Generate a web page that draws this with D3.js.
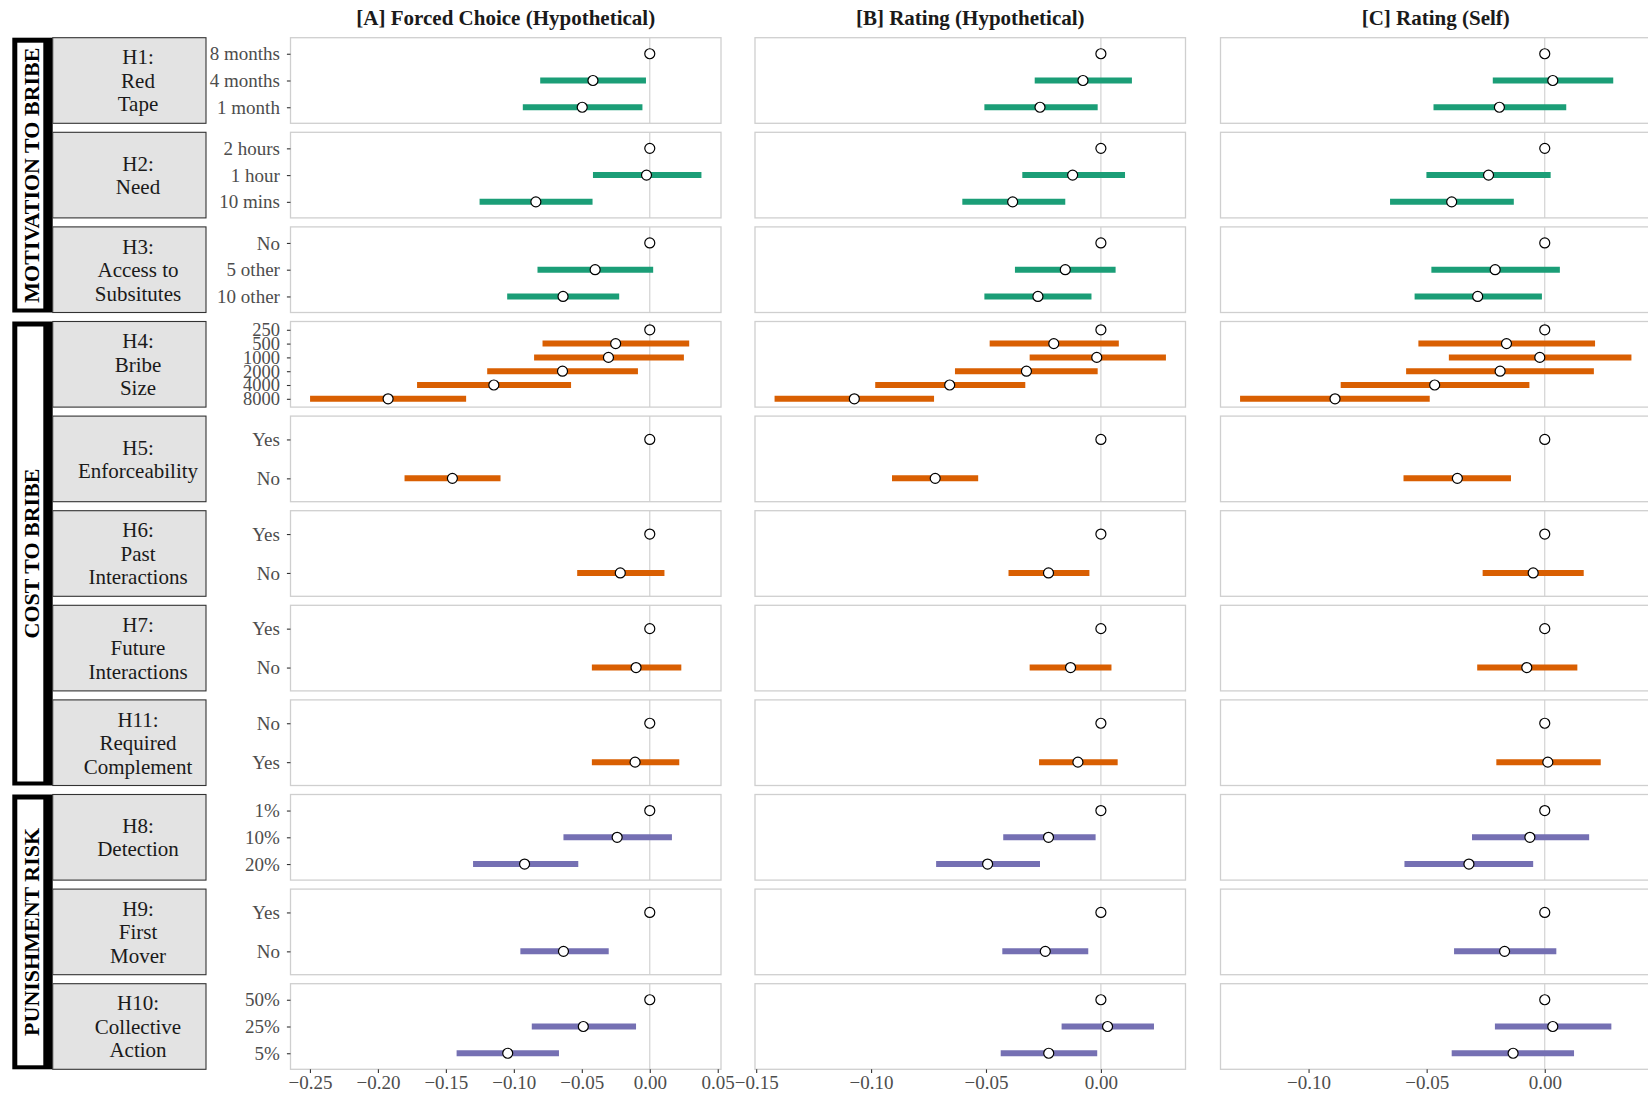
<!DOCTYPE html>
<html>
<head>
<meta charset="utf-8">
<script src="https://cdn.jsdelivr.net/npm/d3@7"></script>
<style>
	body { margin: 0; background: white; }
	text { font-family: "Liberation Serif", "Times New Roman", serif; }
</style>
</head>
<body>
<script>
// column titles
var columns = ["[A] Forced Choice (Hypothetical)", "[B] Rating (Hypothetical)", "[C] Rating (Self)"];

// hypotheses, in plotting order (top to bottom)
var hypLabels = [
	["H1:", "Red", "Tape"],
	["H2:", "Need"],
	["H3:", "Access to", "Subsitutes"],
	["H4:", "Bribe", "Size"],
	["H5:", "Enforceability"],
	["H6:", "Past", "Interactions"],
	["H7:", "Future", "Interactions"],
	["H11:", "Required", "Complement"],
	["H8:", "Detection"],
	["H9:", "First", "Mover"],
	["H10:", "Collective", "Action"]
];
var levels = [
	["8 months", "4 months", "1 month"],
	["2 hours", "1 hour", "10 mins"],
	["No", "5 other", "10 other"],
	["250", "500", "1000", "2000", "4000", "8000"],
	["Yes", "No"],
	["Yes", "No"],
	["Yes", "No"],
	["No", "Yes"],
	["1%", "10%", "20%"],
	["Yes", "No"],
	["50%", "25%", "5%"]
];

// groups of hypotheses
var groupNames = ["MOTIVATION TO BRIBE", "COST TO BRIBE", "PUNISHMENT RISK"];
var groupFirst = [0, 3, 8];
var groupLast = [2, 7, 10];
var groupColors = ["#1B9E77", "#D95F02", "#7570B3"];
var rowGroup = [0, 0, 0, 1, 1, 1, 1, 1, 2, 2, 2];

// [A] forced choice: estimate, lower, upper (first level is the baseline)
var estA = [[0, -0.0418, -0.0497], [0, -0.0024, -0.0838], [0, -0.0402, -0.0638],
	[0, -0.0251, -0.0304, -0.0642, -0.1147, -0.1925], [0, -0.1452], [0, -0.0217], [0, -0.0101],
	[0, -0.0108], [0, -0.0240, -0.0921], [0, -0.0635], [0, -0.0489, -0.1045]];
var lowA = [[null, -0.0806, -0.0934], [null, -0.0418, -0.1252], [null, -0.0826, -0.1049],
	[null, -0.0789, -0.0851, -0.1196, -0.1712, -0.2499], [null, -0.1804], [null, -0.0534], [null, -0.0426],
	[null, -0.0426], [null, -0.0635, -0.1300], [null, -0.0952], [null, -0.0868, -0.1421]];
var highA = [[null, -0.0028, -0.0054], [null, 0.0380, -0.0421], [null, 0.0025, -0.0225],
	[null, 0.0290, 0.0251, -0.0087, -0.0579, -0.1351], [null, -0.1098], [null, 0.0108], [null, 0.0232],
	[null, 0.0217], [null, 0.0163, -0.0526], [null, -0.0302], [null, -0.0101, -0.0668]];

// [B] rating, hypothetical
var estB = [[0, -0.0078, -0.0265], [0, -0.0123, -0.0384], [0, -0.0155, -0.0274],
	[0, -0.0205, -0.0018, -0.0324, -0.0658, -0.1073], [0, -0.0721], [0, -0.0228], [0, -0.0132],
	[0, -0.0100], [0, -0.0228, -0.0493], [0, -0.0242], [0, 0.0029, -0.0227]];
var lowB = [[null, -0.0288, -0.0507], [null, -0.0342, -0.0603], [null, -0.0374, -0.0507],
	[null, -0.0484, -0.0310, -0.0635, -0.0982, -0.1420], [null, -0.0909], [null, -0.0402], [null, -0.0310],
	[null, -0.0269], [null, -0.0425, -0.0717], [null, -0.0429], [null, -0.0171, -0.0436]];
var highB = [[null, 0.0135, -0.0014], [null, 0.0105, -0.0155], [null, 0.0064, -0.0041],
	[null, 0.0078, 0.0283, -0.0014, -0.0329, -0.0726], [null, -0.0534], [null, -0.0050], [null, 0.0046],
	[null, 0.0073], [null, -0.0023, -0.0265], [null, -0.0055], [null, 0.0231, -0.0016]];

// [C] rating, self
var estC = [[0, 0.0034, -0.0192], [0, -0.0238, -0.0394], [0, -0.0210, -0.0284],
	[0, -0.0162, -0.0021, -0.0189, -0.0466, -0.0888], [0, -0.0370], [0, -0.0049], [0, -0.0076],
	[0, 0.0013], [0, -0.0063, -0.0321], [0, -0.0170], [0, 0.0034, -0.0134]];
var lowC = [[null, -0.0220, -0.0471], [null, -0.0501, -0.0655], [null, -0.0480, -0.0551],
	[null, -0.0535, -0.0406, -0.0587, -0.0864, -0.1290], [null, -0.0598], [null, -0.0263], [null, -0.0286],
	[null, -0.0205], [null, -0.0308, -0.0594], [null, -0.0384], [null, -0.0211, -0.0394]];
var highC = [[null, 0.0290, 0.0091], [null, 0.0025, -0.0131], [null, 0.0064, -0.0012],
	[null, 0.0213, 0.0367, 0.0208, -0.0065, -0.0487], [null, -0.0143], [null, 0.0165], [null, 0.0138],
	[null, 0.0237], [null, 0.0188, -0.0049], [null, 0.0049], [null, 0.0282, 0.0124]];

var xTicks = [
	[-0.25, -0.20, -0.15, -0.10, -0.05, 0.00, 0.05],
	[-0.15, -0.10, -0.05, 0.00],
	[-0.10, -0.05, 0.00]
];

var est = [estA, estB, estC], low = [lowA, lowB, lowC], high = [highA, highB, highC];

// layout
var W = 1648, H = 1094;
var panelLeft = [290.5, 755, 1220.5], panelW = 430.5;
var rowTop0 = 37.7, rowPitch = 94.6, rowH = 85.6;
var stripX0 = 52.7, stripX1 = 206, stripTextX = 138;
var frameX0 = 12.3, frameX1 = 52.7;

function rowTop(r) { return rowTop0 + r * rowPitch; }
var plotBottom = rowTop(hypLabels.length - 1) + rowH;

var svg = d3.select("body")
		.append("svg")
		.attr("width", W)
		.attr("height", H);

// column titles
columns.forEach(function(t, c) {
	svg.append("text")
		.attr("x", panelLeft[c] + panelW / 2)
		.attr("y", 25)
		.attr("text-anchor", "middle")
		.attr("font-size", 21)
		.attr("font-weight", "bold")
		.attr("fill", "#1a1a1a")
		.text(t);
});

// group frames
groupNames.forEach(function(g, i) {
	var y0 = rowTop(groupFirst[i]), y1 = rowTop(groupLast[i]) + rowH;
	svg.append("rect")
		.attr("x", frameX0).attr("y", y0)
		.attr("width", frameX1 - frameX0).attr("height", y1 - y0)
		.attr("fill", "black");
	svg.append("rect")
		.attr("x", 17.3).attr("y", y0 + 5)
		.attr("width", 26).attr("height", y1 - y0 - 9)
		.attr("fill", "white");
	svg.append("text")
		.attr("transform", "translate(" + 30.8 + "," + (y0 + y1) / 2 + ") rotate(-90)")
		.attr("text-anchor", "middle")
		.attr("dy", "0.35em")
		.attr("font-size", 22)
		.attr("font-weight", "bold")
		.attr("fill", "black")
		.text(g);
});

// strips
hypLabels.forEach(function(lines, r) {
	var y0 = rowTop(r);
	svg.append("rect")
		.attr("x", stripX0).attr("y", y0)
		.attr("width", stripX1 - stripX0).attr("height", rowH)
		.attr("fill", "#E3E3E3")
		.attr("stroke", "#333333")
		.attr("stroke-width", 1.1);
	var t = svg.append("text")
		.attr("text-anchor", "middle")
		.attr("font-size", 21)
		.attr("fill", "#1a1a1a");
	lines.forEach(function(l, i) {
		t.append("tspan")
			.attr("x", stripTextX)
			.attr("y", y0 + rowH / 2 + (i - (lines.length - 1) / 2) * 23.5)
			.attr("dy", "0.35em")
			.text(l);
	});
});

// panels
columns.forEach(function(t, c) {
	var all = [];
	est[c].forEach(function(a) { all = all.concat(a); });
	low[c].forEach(function(a) { all = all.concat(a.filter(function(v) { return v != null; })); });
	high[c].forEach(function(a) { all = all.concat(a.filter(function(v) { return v != null; })); });
	var ext = d3.extent(all), pad = (ext[1] - ext[0]) * 0.05;
	var x = d3.scaleLinear()
			.domain([ext[0] - pad, ext[1] + pad])
			.range([panelLeft[c], panelLeft[c] + panelW]);

	hypLabels.forEach(function(lines, r) {
		var y0 = rowTop(r);
		var y = d3.scalePoint()
				.domain(levels[r])
				.range([y0, y0 + rowH])
				.padding(0.6);
		var g = svg.append("g");
		g.append("rect")
			.attr("x", panelLeft[c]).attr("y", y0)
			.attr("width", panelW).attr("height", rowH)
			.attr("fill", "white")
			.attr("stroke", "#CFCFCF")
			.attr("stroke-width", 1.3);
		g.append("line")
			.attr("x1", x(0)).attr("x2", x(0))
			.attr("y1", y0).attr("y2", y0 + rowH)
			.attr("stroke", "#CFCFCF")
			.attr("stroke-width", 1.1);

		var pts = levels[r].map(function(lv, i) {
			return { lv: lv, e: est[c][r][i], lo: low[c][r][i], hi: high[c][r][i] };
		});
		g.selectAll(".ci")
			.data(pts.filter(function(d) { return d.lo != null; }))
			.enter().append("line")
			.attr("x1", function(d) { return x(d.lo); })
			.attr("x2", function(d) { return x(d.hi); })
			.attr("y1", function(d) { return y(d.lv); })
			.attr("y2", function(d) { return y(d.lv); })
			.attr("stroke", groupColors[rowGroup[r]])
			.attr("stroke-width", 6);
		g.selectAll(".pt")
			.data(pts)
			.enter().append("circle")
			.attr("cx", function(d) { return x(d.e); })
			.attr("cy", function(d) { return y(d.lv); })
			.attr("r", 5)
			.attr("fill", "white")
			.attr("stroke", "black")
			.attr("stroke-width", 1.2);

		if (c == 0) {
			// the bribe sizes sit close together (they touch in the original too)
			var fs = levels[r].length > 3 ? 18.5 : 19;
			var ya = svg.append("g")
					.attr("transform", "translate(" + panelLeft[c] + ",0)")
					.call(d3.axisLeft(y).tickSize(3.6).tickPadding(7));
			ya.select(".domain").remove();
			ya.selectAll("line").attr("stroke", "#333333").attr("stroke-width", 1.1);
			ya.selectAll("text")
				.attr("font-family", "Liberation Serif")
				.attr("font-size", fs)
				.attr("fill", "#4D4D4D");
		}
	});

	var xa = svg.append("g")
			.attr("transform", "translate(0," + plotBottom + ")")
			.call(d3.axisBottom(x).tickValues(xTicks[c]).tickFormat(d3.format(".2f")).tickSize(3.6).tickPadding(3));
	xa.select(".domain").remove();
	xa.selectAll("line").attr("stroke", "#333333").attr("stroke-width", 1.1);
	xa.selectAll("text")
		.attr("font-family", "Liberation Serif")
		.attr("font-size", 19)
		.attr("fill", "#4D4D4D");
});
</script>
</body>
</html>
